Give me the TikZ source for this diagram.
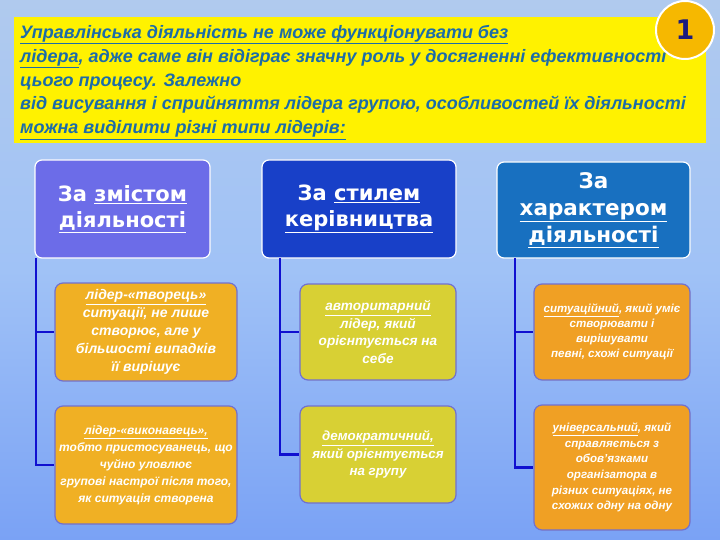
\documentclass[tikz,border=0pt]{standalone}
\usepackage{fontspec}
\setmainfont{Liberation Sans}
\newfontfamily\headfont{DejaVu Sans}
\usetikzlibrary{calc}
\definecolor{skytop}{RGB}{176,202,238}
\definecolor{skymid}{RGB}{160,194,246}
\definecolor{skybot}{RGB}{122,162,245}
\definecolor{toptext}{RGB}{28,108,168}
\definecolor{hA}{RGB}{108,108,232}
\definecolor{hB}{RGB}{24,64,200}
\definecolor{hC}{RGB}{24,112,192}
\definecolor{gold}{RGB}{240,176,36}
\definecolor{olive}{RGB}{216,208,52}
\definecolor{orng}{RGB}{240,160,36}
\definecolor{leafborder}{RGB}{112,112,208}
\definecolor{trunk}{RGB}{16,16,208}
\definecolor{circfill}{RGB}{246,184,0}
\definecolor{navy}{RGB}{26,26,128}
\tikzset{
  head/.style={draw=white, line width=1.2pt, rounded corners=7pt, text=white,
    align=center, inner sep=2pt, font=\headfont\bfseries\fontsize{21}{26}\selectfont},
  leaf/.style={draw=leafborder, line width=1.2pt, rounded corners=8pt, text=white,
    align=center, inner sep=2pt, font=\bfseries\itshape\fontsize{14}{18}\selectfont},
  conn/.style={draw=trunk, line width=2.6pt}
}
\begin{document}
\begin{tikzpicture}[x=1pt,y=-1pt]
\useasboundingbox (0,0) rectangle (720,540);
\shade[top color=skytop, bottom color=skybot, middle color=skymid] (0,0) rectangle (720,540);
% yellow header
\fill[yellow] (14,17) rectangle (706,143);
\node[anchor=north west, align=left, text=toptext, inner sep=0pt,
  font=\bfseries\itshape\fontsize{18}{23.8}\selectfont] (intro) at (20,25)
 {\underline{Управлінська діяльність не може функціонувати без}\\
  \underline{лідера}, адже саме він відіграє значну роль у досягненні ефективності\\
  цього процесу. Залежно\\
  від висування і сприйняття лідера групою, особливостей їх діяльності\\
  \underline{можна виділити різні типи лідерів:}};
\node[circle, fill=circfill, draw=white, line width=2pt, minimum size=58pt,
  text=navy, font=\headfont\bfseries\fontsize{27}{30}\selectfont] (num) at (685,30) {1};
% headers
\node[head, fill=hA, minimum width=175pt, minimum height=98pt] (b1) at (122.5,209)
 {За \underline{змістом}\\ \underline{діяльності}};
\node[head, fill=hB, minimum width=194pt, minimum height=98pt] (b2) at (359,209)
 {За \underline{стилем}\\ \underline{керівництва}};
\node[head, fill=hC, minimum width=193pt, minimum height=96pt,
  font=\headfont\bfseries\fontsize{21.5}{27}\selectfont] (b3) at (593.5,210)
 {За\\ \underline{характером}\\ \underline{діяльності}};
% leaves
\node[leaf, fill=gold, minimum width=182pt, minimum height=98pt] (c11) at (146,332)
 {\underline{лідер-«творець»}\\ ситуації, не лише\\ створює, але у\\ більшості випадків\\ її вирішує};
\node[leaf, fill=gold, minimum width=182pt, minimum height=118pt,
  font=\bfseries\itshape\fontsize{12}{17}\selectfont] (c12) at (146,465)
 {\underline{лідер-«виконавець»,}\\ тобто пристосуванець, що\\ чуйно уловлює\\ групові настрої після того,\\ як ситуація створена};
\node[leaf, fill=olive, minimum width=156pt, minimum height=96pt,
  font=\bfseries\itshape\fontsize{13.6}{17.5}\selectfont] (c21) at (378,332)
 {\underline{авторитарний}\\ лідер, який\\ орієнтується на\\ себе};
\node[leaf, fill=olive, minimum width=156pt, minimum height=97pt,
  font=\bfseries\itshape\fontsize{13.3}{17.5}\selectfont] (c22) at (378,454.5)
 {\underline{демократичний,}\\ який орієнтується\\ на групу};
\node[leaf, fill=orng, minimum width=156pt, minimum height=96pt,
  font=\bfseries\itshape\fontsize{11.6}{15}\selectfont] (c31) at (612,332)
 {\underline{ситуаційний}, який уміє\\ створювати і\\ вирішувати\\ певні, схожі ситуації};
\node[leaf, fill=orng, minimum width=156pt, minimum height=125pt,
  font=\bfseries\itshape\fontsize{11.6}{15.6}\selectfont] (c32) at (612,467.5)
 {\underline{універсальний}, який\\ справляється з\\ обов'язками\\ організатора в\\ різних ситуаціях, не\\ схожих одну на одну};
% connectors
\coordinate (t1) at (36,258);
\coordinate (t2) at (280,258);
\coordinate (t3) at (515,258);
\draw[conn] (t1) |- (c12.west);
\draw[conn] (t1 |- c11.west) -- (c11.west);
\draw[conn] (t2) |- (c22.west);
\draw[conn] (t2 |- c21.west) -- (c21.west);
\draw[conn] (t3) |- (c32.west);
\draw[conn] (t3 |- c31.west) -- (c31.west);
\end{tikzpicture}
\end{document}
